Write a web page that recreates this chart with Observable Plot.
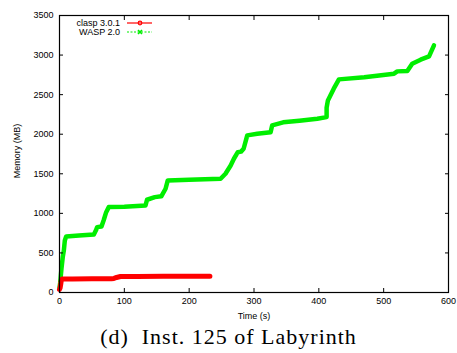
<!DOCTYPE html>
<html>
<head>
<meta charset="utf-8">
<script src="https://cdn.jsdelivr.net/npm/d3@7"></script>
<script src="https://cdn.jsdelivr.net/npm/@observablehq/plot@0.6"></script>
<style>
  html, body { margin: 0; padding: 0; background: #fff; }
  #wrap { width: 457px; }
  #caption { width: 457px; text-align: center; font-family: "Liberation Serif", "DejaVu Serif", serif; font-size: 22px; letter-spacing: 1px; line-height: 30px; color: #000; }
</style>
</head>
<body>
<div id="wrap"></div>
<div id="caption">(d)&nbsp; Inst. 125 of Labyrinth</div>
<script>
const claspT = [0, 1, 2, 3, 5, 20, 50, 80, 84, 88, 94, 120, 160, 200, 232];
const claspM = [40, 60, 110, 165, 172, 172, 173, 175, 178, 190, 202, 203, 204, 204, 204];

const waspT = [0, 1, 3, 5, 6.7, 8.2, 10.3, 30, 53, 56.6, 58, 64.8, 68.4, 72, 76, 100, 132.7, 135, 147, 157, 163.6, 167, 200, 248.5, 256, 264, 269, 275, 280, 284, 289.6, 305, 325.6, 328, 345, 370, 397.6, 412, 412, 414, 423, 431, 470, 516, 521, 536.5, 544, 557, 570, 577.6];
const waspM = [60, 120, 300, 446, 531, 657, 708, 720, 733, 792, 826, 834, 919, 1015, 1079, 1085, 1100, 1172, 1205, 1215, 1311, 1416, 1425, 1437, 1500, 1605, 1690, 1773, 1780, 1816, 1985, 2005, 2026, 2111, 2150, 2170, 2196, 2216, 2335, 2427, 2575, 2693, 2720, 2765, 2794, 2798, 2891, 2942, 2984, 3122];

const xTicks = [0, 100, 200, 300, 400, 500, 600];
const yTicks = [0, 500, 1000, 1500, 2000, 2500, 3000, 3500];
const seriesNames = ["clasp 3.0.1", "WASP 2.0"];
const seriesColors = ["#ff0000", "#00ee00"];

const clasp = claspT.map((t, i) => ({t, m: claspM[i]}));
const wasp = waspT.map((t, i) => ({t, m: waspM[i]}));

const font = '"Liberation Sans", Arial, Helvetica, sans-serif';

const chart = Plot.plot({
  width: 457,
  height: 322,
  marginLeft: 59,
  marginRight: 9,
  marginTop: 15,
  marginBottom: 30,
  style: {fontFamily: font, fontSize: "9px", color: "#000", background: "#fff"},
  x: {domain: [0, 600], ticks: xTicks},
  y: {domain: [0, 3500], ticks: yTicks},
  marks: [
    Plot.line(wasp, {x: "t", y: "m", stroke: seriesColors[1], strokeWidth: 4.5, strokeLinejoin: "round", strokeLinecap: "round"}),
    Plot.line(clasp, {x: "t", y: "m", stroke: seriesColors[0], strokeWidth: 5, strokeLinejoin: "round", strokeLinecap: "round"}),
    Plot.frame({stroke: "#000", strokeWidth: 1.2}),
    Plot.axisX({anchor: "bottom", ticks: xTicks, tickSize: 0, tickPadding: 5, tickFormat: d3.format("d"), label: null, fontSize: 9}),
    Plot.axisX({anchor: "bottom", ticks: xTicks, tickSize: -4, tickFormat: () => "", label: null}),
    Plot.axisX({anchor: "top", ticks: xTicks, tickSize: -4, tickFormat: () => "", label: null}),
    Plot.axisY({anchor: "left", ticks: yTicks, tickSize: 0, tickPadding: 6, tickFormat: d3.format("d"), label: null, fontSize: 9}),
    Plot.axisY({anchor: "left", ticks: yTicks, tickSize: -4, tickFormat: () => "", label: null}),
    Plot.axisY({anchor: "right", ticks: yTicks, tickSize: -4, tickFormat: () => "", label: null}),
    Plot.text(["Time (s)"], {frameAnchor: "bottom", dy: 23.5, lineAnchor: "middle", textAnchor: "middle", fontSize: 9}),
    Plot.text(["Memory (MB)"], {frameAnchor: "left", dx: -42, dy: -3, rotate: -90, lineAnchor: "middle", textAnchor: "middle", fontSize: 9})
  ]
});

document.getElementById("wrap").appendChild(chart);

// gnuplot-style key inside the top-left corner
const svg = d3.select(chart);
const key = svg.append("g").attr("font-family", font).attr("font-size", 9);
seriesNames.forEach((name, i) => {
  const cy = 23 + i * 9;
  key.append("text").attr("x", 120).attr("y", cy).attr("dy", "0.35em").attr("text-anchor", "end").attr("fill", "#000").text(name);
  key.append("line").attr("x1", 127).attr("x2", 152).attr("y1", cy).attr("y2", cy)
    .attr("stroke", seriesColors[i]).attr("stroke-width", 1.2)
    .attr("stroke-dasharray", i === 1 ? "2,1.5" : null);
  if (i === 0) {
    key.append("circle").attr("cx", 140).attr("cy", cy).attr("r", 1.8).attr("fill", "none").attr("stroke", seriesColors[i]).attr("stroke-width", 1.2);
  } else {
    key.append("path").attr("d", `M${138},${cy - 2}L${142},${cy + 2}M${138},${cy + 2}L${142},${cy - 2}`).attr("stroke", seriesColors[i]).attr("stroke-width", 1.6);
  }
});
</script>
</body>
</html>
